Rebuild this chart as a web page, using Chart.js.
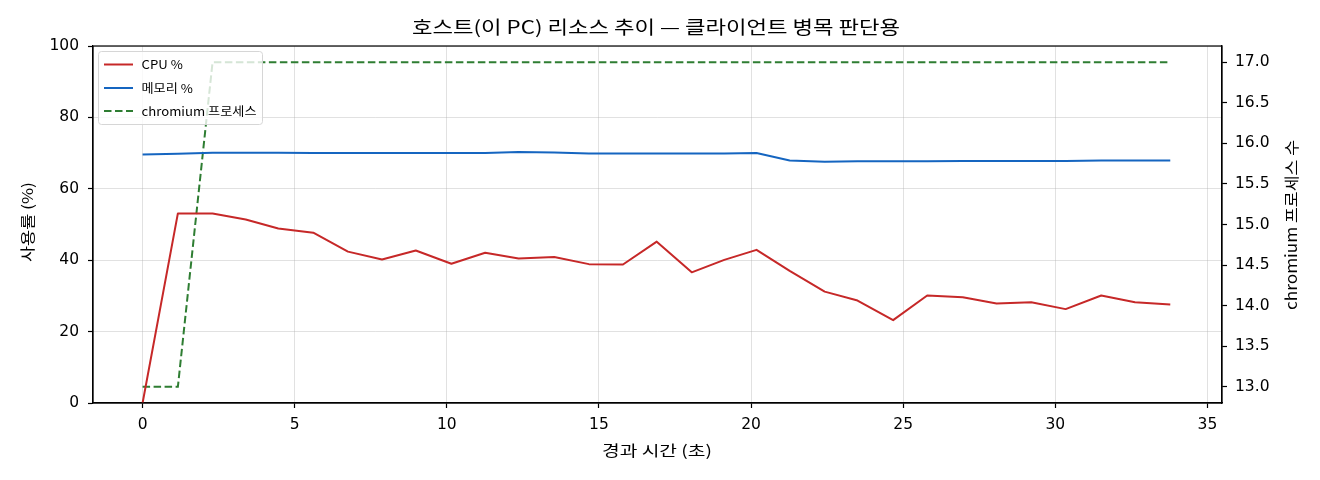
<!DOCTYPE html>
<html>
<head>
<meta charset="utf-8">
<script src="https://cdn.jsdelivr.net/npm/chart.js@4.4.1/dist/chart.umd.min.js"></script>
<style>
  html, body { margin: 0; padding: 0; background: #ffffff; }
  #wrap { width: 1320px; height: 480px; }
</style>
</head>
<body>
<div id="wrap"><canvas id="c" width="1320" height="480"></canvas></div>
<script>
// ---- data ----
const timeSec = [0.00, 1.16, 2.30, 3.39, 4.46, 5.61, 6.75, 7.87, 8.98, 10.15,
                 11.26, 12.36, 13.53, 14.67, 15.79, 16.90, 18.05, 19.12, 20.18, 21.27,
                 22.42, 23.50, 24.67, 25.79, 26.96, 28.07, 29.21, 30.34, 31.51, 32.62, 33.78];
const cpuPct = [0.0, 53.1, 53.1, 51.4, 48.9, 47.7, 42.4, 40.2, 42.7, 39.0,
                42.1, 40.5, 40.9, 38.9, 38.8, 45.2, 36.6, 40.1, 42.9, 37.0,
                31.2, 28.7, 23.2, 30.1, 29.6, 27.9, 28.2, 26.3, 30.1, 28.2, 27.6];
const memPct = [69.6, 69.8, 70.1, 70.1, 70.1, 70.0, 70.0, 70.0, 70.0, 70.0,
                70.0, 70.3, 70.2, 69.9, 69.9, 69.9, 69.9, 69.9, 70.0, 67.9,
                67.6, 67.7, 67.7, 67.7, 67.8, 67.8, 67.8, 67.8, 67.9, 67.9, 67.9];
const chromiumProc = [13, 13, 17, 17, 17, 17, 17, 17, 17, 17,
                      17, 17, 17, 17, 17, 17, 17, 17, 17, 17,
                      17, 17, 17, 17, 17, 17, 17, 17, 17, 17, 17];
const seriesLabels = ['CPU %', '메모리 %', 'chromium 프로세스'];
const xTicks = [0, 5, 10, 15, 20, 25, 30, 35];
const yTicks = [0, 20, 40, 60, 80, 100];
const y2Ticks = [13.0, 13.5, 14.0, 14.5, 15.0, 15.5, 16.0, 16.5, 17.0];
const titleText = '호스트(이 PC) 리소스 추이 — 클라이언트 병목 판단용';
const xLabel = '경과 시간 (초)';
const yLabel = '사용률 (%)';
const y2Label = 'chromium 프로세스 수';

const FONT = '"DejaVu Sans", "Noto Sans CJK KR", sans-serif';
const KFONT = '"Noto Sans CJK KR", "DejaVu Sans", sans-serif';

const pts = (ys) => timeSec.map((t, i) => ({ x: t, y: ys[i] }));

// draw text centred at (0,0) of current transform, stretched horizontally to a target width
function fitText(ctx, text, size, targetW) {
  ctx.font = size + 'px ' + KFONT;
  const w = ctx.measureText(text).width;
  ctx.save();
  ctx.scale(targetW / w, 1);
  ctx.fillText(text, 0, 0);
  ctx.restore();
}

const textPlugin = {
  id: 'textPlugin',
  afterDraw(chart) {
    const ctx = chart.ctx;
    const a = chart.chartArea;
    ctx.save();
    // frame (spines)
    ctx.strokeStyle = '#000';
    ctx.lineWidth = 1.2;
    ctx.strokeRect(a.left, a.top, a.right - a.left, a.bottom - a.top);
    ctx.fillStyle = '#000';
    ctx.textAlign = 'center';
    ctx.textBaseline = 'middle';
    // title
    ctx.save(); ctx.translate(656, 27); fitText(ctx, titleText, 18, 488); ctx.restore();
    // x label
    ctx.save(); ctx.translate(657, 450); fitText(ctx, xLabel, 15, 110); ctx.restore();
    // left y label
    ctx.save(); ctx.translate(27, 222); ctx.rotate(-Math.PI / 2); fitText(ctx, yLabel, 15, 80); ctx.restore();
    // right y label
    ctx.save(); ctx.translate(1291, 225); ctx.rotate(-Math.PI / 2); fitText(ctx, y2Label, 15, 170); ctx.restore();
    // legend
    const lx = 98.5, ly = 51.5, lw = 164, lh = 73, r = 3;
    ctx.beginPath();
    ctx.moveTo(lx + r, ly);
    ctx.arcTo(lx + lw, ly, lx + lw, ly + lh, r);
    ctx.arcTo(lx + lw, ly + lh, lx, ly + lh, r);
    ctx.arcTo(lx, ly + lh, lx, ly, r);
    ctx.arcTo(lx, ly, lx + lw, ly, r);
    ctx.closePath();
    ctx.fillStyle = 'rgba(255,255,255,0.8)';
    ctx.fill();
    ctx.strokeStyle = '#d6d6d6';
    ctx.lineWidth = 1;
    ctx.stroke();
    const rows = [64.5, 88, 111];
    ctx.font = '12px ' + KFONT;
    const legScale = 115 / ctx.measureText(seriesLabels[2]).width;
    chart.data.datasets.forEach((ds, i) => {
      const y = rows[i];
      ctx.beginPath();
      ctx.strokeStyle = ds.borderColor;
      ctx.lineWidth = 2;
      ctx.setLineDash(ds.borderDash || []);
      ctx.moveTo(104, y);
      ctx.lineTo(133, y);
      ctx.stroke();
      ctx.setLineDash([]);
      ctx.fillStyle = '#000';
      ctx.textAlign = 'left';
      ctx.save();
      ctx.translate(141.5, y);
      ctx.scale(legScale, 1);
      ctx.fillText(ds.label, 0, 0);
      ctx.restore();
    });
    ctx.restore();
  }
};

const gridColor = 'rgba(176,176,176,0.38)';

new Chart(document.getElementById('c'), {
  type: 'line',
  data: {
    datasets: [
      { label: seriesLabels[0], data: pts(cpuPct), yAxisID: 'y',
        borderColor: '#c62828', borderWidth: 2, pointRadius: 0, tension: 0,
        borderJoinStyle: 'round', fill: false },
      { label: seriesLabels[1], data: pts(memPct), yAxisID: 'y',
        borderColor: '#1565c0', borderWidth: 2, pointRadius: 0, tension: 0,
        borderJoinStyle: 'round', fill: false },
      { label: seriesLabels[2], data: pts(chromiumProc), yAxisID: 'y2',
        borderColor: '#2e7d32', borderWidth: 2, pointRadius: 0, tension: 0,
        borderDash: [7.5, 3.5], fill: false }
    ]
  },
  options: {
    responsive: false,
    animation: false,
    devicePixelRatio: 1,
    layout: { padding: { top: 46, left: 0, right: 0, bottom: 0 } },
    plugins: { legend: { display: false }, title: { display: false }, tooltip: { enabled: false } },
    scales: {
      x: {
        type: 'linear', position: 'bottom',
        min: -1.63, max: 35.48,
        afterFit: (s) => { s.height = 77; },
        afterBuildTicks: (s) => { s.ticks = xTicks.map(v => ({ value: v })); },
        grid: { color: gridColor, lineWidth: 1, drawTicks: true, tickLength: 5, tickColor: '#000', tickWidth: 1.2 },
        border: { display: true, color: '#000', width: 1.2 },
        ticks: { color: '#000', font: { family: FONT, size: 15.5 }, padding: 8, maxRotation: 0,
                 callback: (v) => String(v) }
      },
      y: {
        type: 'linear', position: 'left',
        min: 0, max: 100,
        afterFit: (s) => { s.width = 93; },
        afterBuildTicks: (s) => { s.ticks = yTicks.map(v => ({ value: v })); },
        grid: { color: gridColor, lineWidth: 1, drawTicks: true, tickLength: 5, tickColor: '#000', tickWidth: 1.2 },
        border: { display: true, color: '#000', width: 1.2 },
        ticks: { color: '#000', font: { family: FONT, size: 15.5 }, padding: 9,
                 callback: (v) => String(v) }
      },
      y2: {
        type: 'linear', position: 'right',
        min: 12.8, max: 17.2,
        afterFit: (s) => { s.width = 98; },
        afterBuildTicks: (s) => { s.ticks = y2Ticks.map(v => ({ value: v })); },
        grid: { drawOnChartArea: false, color: '#000', drawTicks: true, tickLength: 5, tickColor: '#000', tickWidth: 1.2 },
        border: { display: true, color: '#000', width: 1.2 },
        ticks: { color: '#000', font: { family: FONT, size: 15.5 }, padding: 8,
                 callback: (v) => Number(v).toFixed(1) }
      }
    }
  },
  plugins: [textPlugin]
});
</script>
</body>
</html>
